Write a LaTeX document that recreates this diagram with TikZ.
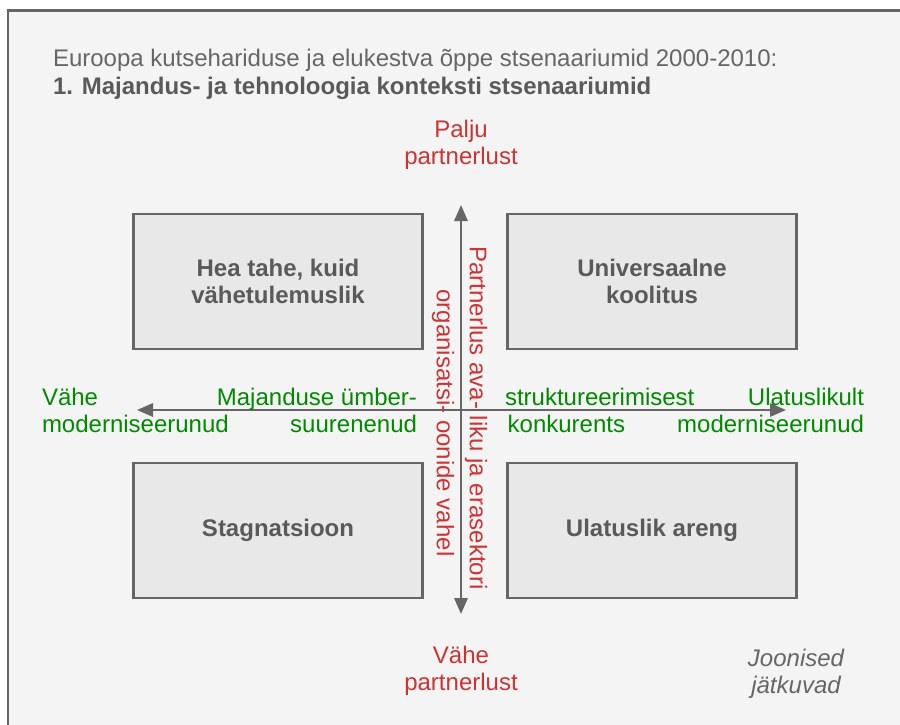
\documentclass[tikz,border=0pt]{standalone}
\usepackage{fontspec}
\setmainfont{Liberation Sans}
\usetikzlibrary{arrows.meta}
\definecolor{framegray}{HTML}{666666}
\definecolor{boxfill}{HTML}{E8E8E8}
\definecolor{bgfill}{HTML}{F4F4F4}
\definecolor{txtgray}{HTML}{666666}
\definecolor{boldgray}{HTML}{5A5A5A}
\definecolor{axred}{HTML}{CC3333}
\definecolor{axgreen}{HTML}{008A00}
\begin{document}
\begin{tikzpicture}[x=0.75pt,y=-0.75pt,
  every node/.style={inner sep=0pt, outer sep=0pt},
  txt/.style={font=\fontsize{18pt}{20.25pt}\selectfont},
  scenario/.style={draw=framegray, line width=1.6pt, fill=boxfill,
    minimum width=289*0.75pt, minimum height=135*0.75pt, align=center,
    text=boldgray, font=\fontsize{18pt}{20.25pt}\selectfont\bfseries},
  axis/.style={draw=framegray, line width=1.6pt,
    -{Triangle[length=12pt,width=10pt]}},
  redlbl/.style={txt, text=axred, align=center},
  greenlbl/.style={txt, text=axgreen}]
\useasboundingbox (0,0) rectangle (900,725);
% page background and frame
\fill[white] (0,0) rectangle (900,725);
\fill[bgfill] (8,10.5) rectangle (901,726);
\draw[framegray, line width=1.6pt] (8,726) -- (8,10.5) -- (901,10.5);
% heading
\node[txt, text=txtgray, anchor=base west] (title1) at (53,66) {Euroopa kutsehariduse ja elukestva õppe stsenaariumid 2000-2010:};
\node[txt, text=boldgray, anchor=base west, font=\fontsize{18pt}{20.25pt}\selectfont\bfseries] (title2) at (53,94) {1. Majandus- ja tehnoloogia konteksti stsenaariumid};
% scenario boxes
\node[scenario] (tl) at (278,281.5) {Hea tahe, kuid\\vähetulemuslik};
\node[scenario] (tr) at (652,281.5) {Universaalne\\koolitus};
\node[scenario] (bl) at (278,530.5) {Stagnatsioon};
\node[scenario] (br) at (652,530.5) {Ulatuslik areng};
% axes
\coordinate (c) at (461,410);
\coordinate (top) at (461,205);
\coordinate (bot) at (461,614);
\coordinate (lft) at (137,410);
\coordinate (rgt) at (786,410);
\draw[axis] (c) -- (top);
\draw[axis] (c) -- (bot);
\draw[axis] (c) -- (lft);
\draw[axis] (c) -- (rgt);
% vertical axis labels
\node[redlbl] (many) at (461,145) {Palju\\partnerlust};
\node[redlbl] (few) at (461,671) {Vähe\\partnerlust};
\node[txt, text=axred, rotate=-90] (v1) at (476,418) {Partnerlus ava- liku ja erasektori};
\node[txt, text=axred, rotate=-90] (v2) at (443,423) {organisatsi- oonide vahel};
% horizontal axis labels
\node[greenlbl, align=left, anchor=west] (lowmod) at (42,410) {Vähe\\moderniseerunud};
\node[greenlbl, align=right, anchor=east] (econ) at (417,410) {Majanduse ümber-\\suurenenud};
\node[greenlbl, align=left, anchor=west] (struct) at (505,410) {struktureerimisest\\\hspace*{2pt}konkurents};
\node[greenlbl, align=right, anchor=east] (highmod) at (864,410) {Ulatuslikult\\moderniseerunud};
% footnote
\node[txt, text=txtgray, align=center, font=\fontsize{18pt}{20.25pt}\selectfont\itshape] (cont) at (796,674) {Joonised\\jätkuvad};
\end{tikzpicture}
\end{document}
